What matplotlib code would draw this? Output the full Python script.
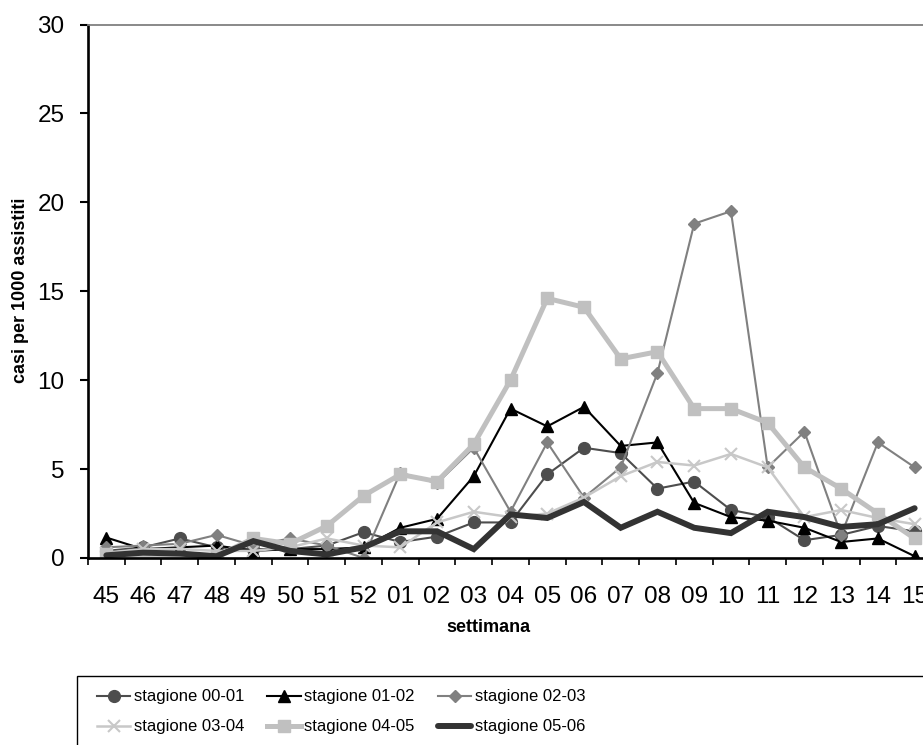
# -*- coding: utf8 -*-
# casi per 1000 assistiti, stagioni 00-01 .. 05-06
import matplotlib
matplotlib.use('Agg')
import matplotlib.pyplot as plt
from matplotlib.patches import Rectangle

plt.rcParams['font.family'] = ['Liberation Sans', 'DejaVu Sans']

settimane = ['45','46','47','48','49','50','51','52','01','02','03','04',
             '05','06','07','08','09','10','11','12','13','14','15']

s0001 = [0.4,0.6,1.1,0.6,0.5,0.5,0.7,1.45,0.9,1.2,2.0,2.0,4.7,6.2,5.9,3.9,4.3,2.7,2.3,1.0,1.3,1.8,1.5]
s0102 = [1.15,0.5,0.6,0.7,0.4,0.5,0.5,0.6,1.7,2.2,4.6,8.4,7.4,8.5,6.3,6.5,3.1,2.3,2.1,1.7,0.9,1.1,0.1]
s0203 = [0.6,0.7,0.8,1.3,0.7,1.1,0.7,0.0,4.8,4.2,6.2,2.6,6.5,3.4,5.1,10.4,18.8,19.5,5.1,7.1,1.3,6.5,5.1]
s0304 = [0.3,0.5,0.5,0.4,0.4,0.6,1.1,0.7,0.6,2.0,2.6,2.3,2.5,3.4,4.6,5.4,5.2,5.85,5.1,2.3,2.7,2.25,1.9]
s0405 = [0.2,0.0,0.0,0.1,1.1,0.8,1.8,3.5,4.7,4.3,6.4,10.0,14.6,14.1,11.2,11.6,8.4,8.4,7.6,5.1,3.9,2.5,1.1]
s0506 = [0.15,0.3,0.25,0.1,0.95,0.4,0.2,0.6,1.5,1.5,0.5,2.45,2.25,3.15,1.7,2.6,1.7,1.4,2.6,2.3,1.75,1.9,2.8]

etichette = ['stagione 00-01','stagione 01-02','stagione 02-03',
             'stagione 03-04','stagione 04-05','stagione 05-06']

fig = plt.figure(figsize=(9.23, 7.45), dpi=100)
W, H = 923.0, 745.0
# plot area: left 88px, right ~933px (oltre il bordo), top 24.5px, bottom 558px
ax = fig.add_axes([88/W, (H-558)/H, (933-88)/W, (558-24.5)/H])

x = list(range(len(settimane)))
h = []
h += ax.plot(x, s0001, color='#4d4d4d', lw=1.5, marker='o', ms=8.5, mec='#4d4d4d', mfc='#4d4d4d')
h += ax.plot(x, s0102, color='black', lw=1.5, marker='^', ms=8.5, mec='black', mfc='black')
h += ax.plot(x, s0203, color='#808080', lw=1.5, marker='D', ms=6.5, mec='#808080', mfc='#808080')
h += ax.plot(x, s0304, color='#c8c8c8', lw=1.8, marker='x', ms=9, mew=1.5, mec='#c8c8c8')
h += ax.plot(x, s0405, color='#c0c0c0', lw=3.6, marker='s', ms=9, mec='#c0c0c0', mfc='#c0c0c0')
h += ax.plot(x, s0506, color='#333333', lw=4.3, solid_capstyle='round', solid_joinstyle='miter')

ax.set_xlim(-0.5, len(settimane)-0.5)
ax.set_ylim(0, 30)
ax.set_yticks([0,5,10,15,20,25,30])
ax.tick_params(axis='y', direction='out', length=6, width=1.5, pad=11, labelsize=17.5)

# tacche tra le categorie, etichette al centro
ax.set_xticks([i-0.5 for i in range(len(settimane)+1)])
ax.set_xticklabels([])
ax.set_xticks(x, minor=True)
ax.set_xticklabels(settimane, minor=True)
ax.tick_params(axis='x', which='major', direction='out', length=5, width=1.2)
ax.tick_params(axis='x', which='minor', length=0, pad=20, labelsize=17.5)

for s in ['left','bottom']:
    ax.spines[s].set_linewidth(1.9)
    ax.spines[s].set_color('black')
ax.spines['top'].set_color('#808080')
ax.spines['top'].set_linewidth(1.3)
ax.spines['right'].set_color('#808080')
ax.spines['right'].set_linewidth(1.3)

ax.set_xlabel('settimana', fontsize=13, fontweight='bold')
ax.xaxis.set_label_coords((488-88)/845.0, -(628-558)/533.5)
ax.xaxis.label.set_va('center')
ax.set_ylabel('casi per 1000 assistiti', fontsize=13, fontweight='bold')
ax.yaxis.set_label_coords((21-88)/845.0, (558-290)/533.5)
ax.yaxis.label.set_va('center')

# cornice della legenda (tagliata a destra e in basso)
fig.patches.append(Rectangle((77/W, -0.2), 1.2, 0.2+(H-676)/H, transform=fig.transFigure,
                             fill=False, edgecolor='black', lw=1.0))
ordine = [0,3,1,4,2,5]
fig.legend([h[i] for i in ordine], [etichette[i] for i in ordine], ncol=3,
           loc='center left', bbox_to_anchor=(97/W, (H-712)/H), frameon=False,
           fontsize=12, handlelength=2.0, handletextpad=0.2, columnspacing=1.4,
           borderpad=0, borderaxespad=0, labelspacing=0.9)

fig.savefig('out.png', dpi=100)
